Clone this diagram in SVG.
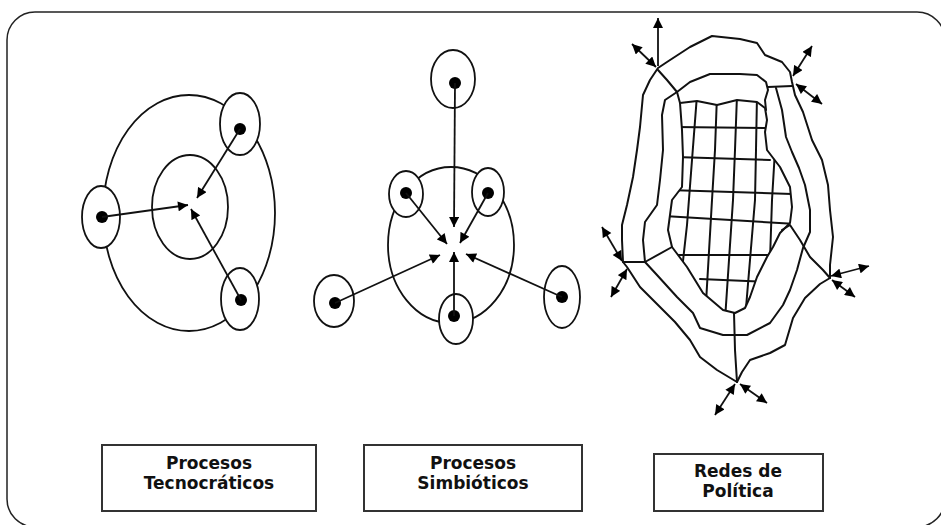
<svg xmlns="http://www.w3.org/2000/svg" width="941" height="525" viewBox="0 0 941 525">
<style>
.ln{fill:none;stroke:#111;stroke-width:2;stroke-linejoin:round;stroke-linecap:round}
.el{fill:none;stroke:#111;stroke-width:1.8}
.dot{fill:#000}
.ar{fill:none;stroke:#111;stroke-width:1.8;marker-end:url(#ah)}
.dar{fill:none;stroke:#111;stroke-width:1.8;marker-end:url(#ah);marker-start:url(#ah)}
.box{fill:#fff;stroke:#333;stroke-width:2}
.lbl{font-family:"DejaVu Sans",Verdana,sans-serif;font-weight:bold;font-size:17px;fill:#111;text-anchor:middle}
</style>
<defs>
<marker id="ah" viewBox="0 0 10 10" refX="10" refY="5" markerWidth="11" markerHeight="10" markerUnits="userSpaceOnUse" orient="auto-start-reverse">
<path d="M0,0 L10,5 L0,10 Z" fill="#000"/>
</marker>
<clipPath id="gridclip">
<path d="M680,103 L697,101 L717,105 L737,100 L757,102 L765,108 L767,120 L765,132 L767,150 L780,167 L790,187 L792,207 L790,223 L780,233 L773,247 L767,257 L757,277 L750,297 L745,308 L735,313 L723,310 L703,293 L687,267 L678,255 L672,247 L668,230 L670,215 L672,200 L682,187 L683,157 L682,130 Z"/>
</clipPath>
</defs>
<rect x="7" y="12" width="938" height="515" rx="28" ry="28" fill="none" stroke="#222" stroke-width="1.5"/>

<g id="tecnocraticos">
<ellipse class="el" cx="189" cy="213" rx="86" ry="118"/>
<ellipse class="el" cx="190" cy="207" rx="38" ry="52"/>
<g id="t-node-top"><ellipse class="el" cx="240" cy="124" rx="20" ry="31" fill="#fff" style="fill:#fff"/><circle class="dot" cx="240" cy="129" r="6"/></g>
<g id="t-node-left"><ellipse class="el" cx="101" cy="217" rx="19" ry="31" style="fill:#fff"/><circle class="dot" cx="102" cy="217" r="6"/></g>
<g id="t-node-bottom"><ellipse class="el" cx="240" cy="299" rx="19" ry="31" style="fill:#fff"/><circle class="dot" cx="241" cy="300" r="6"/></g>
</g>

<g id="simbioticos">
<ellipse class="el" cx="451" cy="245" rx="63" ry="78"/>
<g id="s-node-top"><ellipse class="el" cx="453" cy="79" rx="22" ry="29" style="fill:#fff"/><circle class="dot" cx="455" cy="83" r="6"/></g>
<g id="s-node-ul"><ellipse class="el" cx="406" cy="194" rx="17" ry="23" style="fill:#fff"/><circle class="dot" cx="406" cy="193" r="6"/></g>
<g id="s-node-ur"><ellipse class="el" cx="488" cy="192" rx="16" ry="24" style="fill:#fff"/><circle class="dot" cx="488" cy="193" r="6"/></g>
<g id="s-node-ll"><ellipse class="el" cx="334" cy="301" rx="20" ry="26" style="fill:#fff"/><circle class="dot" cx="335" cy="303" r="6"/></g>
<g id="s-node-bottom"><ellipse class="el" cx="456" cy="319" rx="17" ry="25" style="fill:#fff"/><circle class="dot" cx="454" cy="316" r="6"/></g>
<g id="s-node-lr"><ellipse class="el" cx="562" cy="297" rx="18" ry="31" style="fill:#fff"/><circle class="dot" cx="562" cy="297" r="6"/></g>
</g>

<g id="redes">
<path class="ln" d="M658,68 L667,62 L690,47 L712,36 L740,39 L757,43 L765,55 L782,62 L790,72 L792,82 L795,95 L803,112 L812,140 L822,160 L828,185 L830,210 L833,237 L830,265 L830,278 L820,284 L805,298 L793,318 L785,345 L770,353 L750,360 L742,372 L737,382 L717,370 L700,357 L690,340 L675,322 L663,310 L640,287 L627,267 L623,262 L622,240 L622,225 L627,205 L633,177 L637,150 L640,127 L643,95 L650,80 Z"/>
<path class="ln" d="M658,70 L667,80 L677,92 L680,103"/>
<path class="ln" d="M677,92 L690,82 L710,74 L740,74 L757,75 L766,82 L768,90 L765,100 L766,110"/>
<path class="ln" d="M768,87 L792,86"/>
<path class="ln" d="M776,88 L782,110 L786,137 L792,152 L799,168 L805,185 L810,210 L810,232 L803,248 L797,270 L790,290 L783,305 L770,323 L747,335 L723,335 L700,328 L693,313 L677,297 L657,275 L645,262 L643,240 L645,222 L657,205 L660,180 L663,150 L662,115 L665,100 L677,92"/>
<path class="ln" d="M623,262 L645,262 L672,247"/>
<path class="ln" d="M782,230 L790,225 L800,240 L810,257 L823,270 L830,278"/>
<path class="ln" d="M734,313 L735,350 L737,382"/>
<path class="ln" d="M680,103 L697,101 L717,105 L737,100 L757,102 L765,108 L767,120 L765,132 L767,150 L780,167 L790,187 L792,207 L790,223 L780,233 L773,247 L767,257 L757,277 L750,297 L745,308 L735,313 L723,310 L703,293 L687,267 L678,255 L672,247 L668,230 L670,215 L672,200 L682,187 L683,157 L682,130 Z"/>
<g clip-path="url(#gridclip)">
<path class="ln" d="M697,95 L692,160 L687,225 L682,270"/>
<path class="ln" d="M717,95 L715,150 L712,200 L705,320"/>
<path class="ln" d="M737,95 L735,150 L733,200 L725,320"/>
<path class="ln" d="M757,95 L756,150 L755,200 L745,320"/>
<path class="ln" d="M775,150 L772,200 L770,260"/>
<path class="ln" d="M675,127 L770,128"/>
<path class="ln" d="M675,157 L770,160"/>
<path class="ln" d="M668,190 L795,194"/>
<path class="ln" d="M665,216 L795,224"/>
<path class="ln" d="M670,255 L780,255"/>
<path class="ln" d="M700,279 L770,282"/>
</g>
</g>

<g id="connectors">
<line class="ar" x1="240" y1="129" x2="197" y2="198"/>
<line class="ar" x1="102" y1="217" x2="188" y2="205"/>
<line class="ar" x1="241" y1="300" x2="191" y2="209"/>
<line class="ar" x1="455" y1="83" x2="454" y2="227"/>
<line class="ar" x1="406" y1="193" x2="447" y2="244"/>
<line class="ar" x1="488" y1="193" x2="460" y2="243"/>
<line class="ar" x1="335" y1="303" x2="440" y2="255"/>
<line class="ar" x1="454" y1="316" x2="454" y2="252"/>
<line class="ar" x1="562" y1="297" x2="466" y2="254"/>
<line class="ar" x1="658" y1="66" x2="658" y2="18"/>
<line class="dar" x1="656" y1="67" x2="632" y2="44"/>
<line class="dar" x1="793" y1="76" x2="812" y2="46"/>
<line class="dar" x1="796" y1="84" x2="822" y2="104"/>
<line class="dar" x1="622" y1="261" x2="602" y2="227"/>
<line class="dar" x1="627" y1="269" x2="611" y2="297"/>
<line class="dar" x1="831" y1="276" x2="869" y2="266"/>
<line class="dar" x1="832" y1="280" x2="855" y2="297"/>
<line class="dar" x1="735" y1="384" x2="715" y2="415"/>
<line class="dar" x1="740" y1="384" x2="767" y2="403"/>
</g>

<g id="label-tecnocraticos">
<rect class="box" x="102" y="445" width="214" height="66"/>
<text class="lbl" x="209" y="469">Procesos</text>
<text class="lbl" x="209" y="489">Tecnocráticos</text>
</g>
<g id="label-simbioticos">
<rect class="box" x="364" y="445" width="218" height="66"/>
<text class="lbl" x="473" y="469">Procesos</text>
<text class="lbl" x="473" y="489">Simbióticos</text>
</g>
<g id="label-redes">
<rect class="box" x="654" y="454" width="169" height="57"/>
<text class="lbl" x="738" y="477">Redes de</text>
<text class="lbl" x="738" y="497">Política</text>
</g>
</svg>
